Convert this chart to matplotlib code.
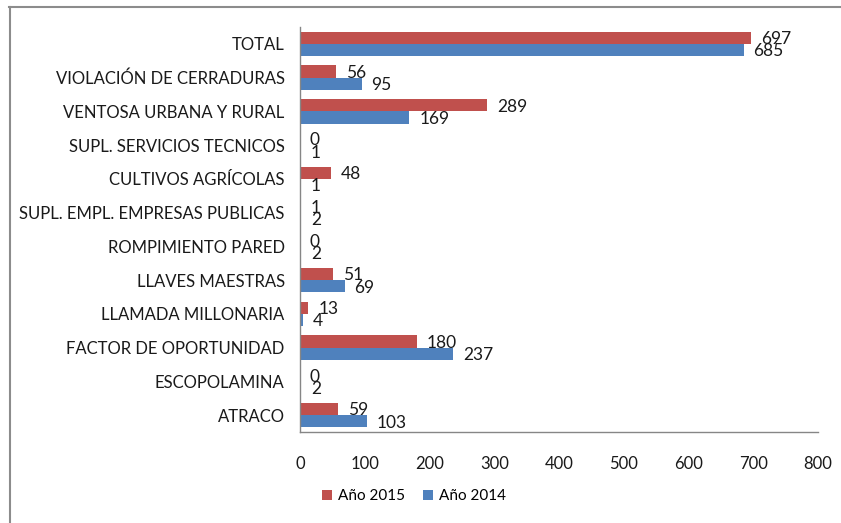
import matplotlib
matplotlib.use('Agg')
import numpy as np
import matplotlib.pyplot as plt
from matplotlib.lines import Line2D

categories = ['ATRACO', 'ESCOPOLAMINA', 'FACTOR DE OPORTUNIDAD', 'LLAMADA MILLONARIA',
              'LLAVES MAESTRAS', 'ROMPIMIENTO PARED', 'SUPL. EMPL. EMPRESAS PUBLICAS',
              'CULTIVOS AGRÍCOLAS', 'SUPL. SERVICIOS TECNICOS', 'VENTOSA URBANA Y RURAL',
              'VIOLACIÓN DE CERRADURAS', 'TOTAL']
y2015 = [59, 0, 180, 13, 51, 0, 1, 48, 0, 289, 56, 697]
y2014 = [103, 2, 237, 4, 69, 2, 2, 1, 1, 169, 95, 685]
xticks = [0, 100, 200, 300, 400, 500, 600, 700, 800]

plt.rcParams['font.family'] = ['Lato', 'DejaVu Sans']
red = '#C0504D'
blue = '#4F81BD'
axis_gray = '#868686'

fig = plt.figure(figsize=(8.41, 5.23), dpi=100)
ax = fig.add_axes([300/841, 1 - 432/523, 518/841, 405/523])

pos = np.arange(len(categories))
h = 0.36
b15 = ax.barh(pos + h/2, y2015, height=h, color=red, label='Año 2015')
b14 = ax.barh(pos - h/2, y2014, height=h, color=blue, label='Año 2014')

for bars, vals in [(b15, y2015), (b14, y2014)]:
    for bar, v in zip(bars, vals):
        ax.annotate(str(v), (v, bar.get_y() + bar.get_height()/2),
                    xytext=(7, -1), textcoords='offset points',
                    va='center', ha='left', fontsize=12.5, color='#1a1a1a')

ax.set_xlim(0, 800)
ax.set_ylim(-0.5, len(categories) - 0.5)
ax.set_xticks(xticks)
ax.set_yticks(pos)
ax.set_yticklabels(categories)
ax.tick_params(axis='both', length=0, labelsize=12, labelcolor='#1a1a1a')
ax.tick_params(axis='x', pad=17)
ax.tick_params(axis='y', pad=11)
for s in ['top', 'right']:
    ax.spines[s].set_visible(False)
for s in ['left', 'bottom']:
    ax.spines[s].set_color(axis_gray)
    ax.spines[s].set_linewidth(1)

fig.legend(handles=[b15, b14], loc='center', bbox_to_anchor=(414/841, 1 - 496/523),
           ncol=2, frameon=False, fontsize=11, handlelength=0.65, handleheight=0.65,
           handletextpad=0.4, columnspacing=1.2)

# chart area border (top and left only visible in the crop)
fig.add_artist(Line2D([9/841, 1], [1 - 7/523, 1 - 7/523], color='#8c8c8c', lw=1.5))
fig.add_artist(Line2D([9.5/841, 9.5/841], [0, 1 - 7/523], color='#8c8c8c', lw=1.5))

fig.savefig('out.png', dpi=100)
